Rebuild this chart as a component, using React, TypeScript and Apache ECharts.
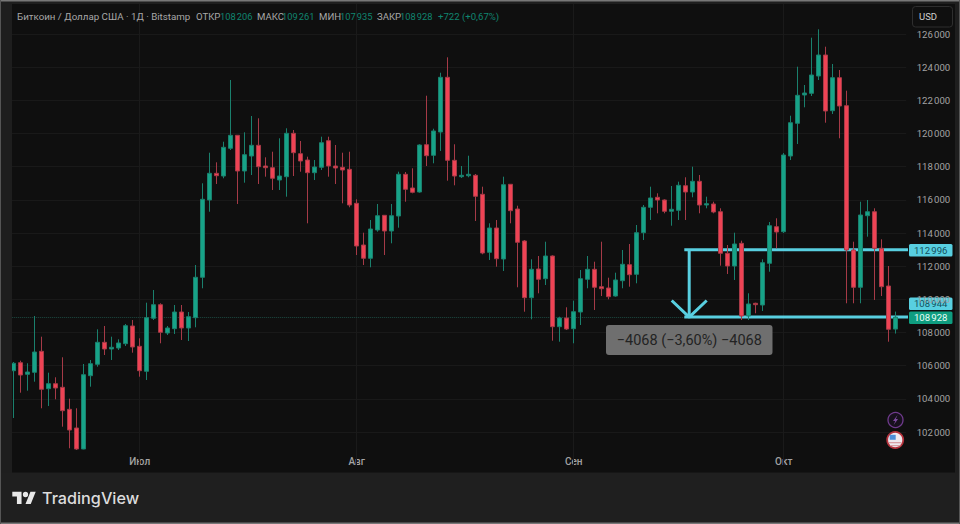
import React, { useEffect, useRef } from "react";
import * as echarts from "echarts";

const opens = [
  105697, 106179, 105480, 105600, 106867, 104611, 104913, 104696, 103369, 102242,
  100975, 105395, 106083, 107409, 107005, 107066, 107325, 108392, 107168, 105661,
  108857, 109677, 107970, 108229, 109236, 108272, 108893, 111329, 115990, 117600,
  117437, 119108, 119891, 117739, 118643, 119288, 118040, 117938, 117196, 117395,
  120012, 118782, 118402, 117636, 117962, 119566, 118040, 117962, 117841, 115791,
  113276, 112475, 114181, 115067, 114121, 115025, 117540, 116714, 116472, 119325,
  118685, 120090, 123389, 118384, 117395, 117455, 117479, 116334, 112836, 114302,
  112432, 116937, 115447, 113518, 110099, 111829, 111244, 112613, 108350, 108875,
  108229, 109236, 111208, 111811, 110762, 110684, 110201, 111124, 112089, 111510,
  114018, 115550, 116153, 115990, 115309, 115369, 116852, 116472, 117118, 115688,
  115749, 115284, 112776, 112010, 113379, 108995, 109761, 109658, 112173, 114380,
  114078, 118643, 120615, 122322, 122424, 123467, 124733, 121375, 123365, 121676,
  112975, 110726, 115043, 115284, 113078, 110804, 108206,
];
const closes = [
  106143, 105437, 105618, 106824, 104575, 104913, 104654, 103285, 102121, 100975,
  105456, 106119, 107409, 107005, 107108, 107367, 108410, 107126, 105697, 108893,
  109677, 108012, 108272, 109236, 108272, 108953, 111329, 116032, 117600, 117455,
  119168, 119891, 117739, 118722, 119288, 117998, 117938, 117299, 117437, 120012,
  118842, 118342, 117636, 117980, 119445, 118040, 117920, 117799, 115688, 113216,
  112475, 114241, 115043, 114121, 115043, 117540, 116635, 116454, 119306, 118661,
  120151, 123389, 118384, 117437, 117479, 117540, 116213, 112794, 114302, 112450,
  116913, 115345, 113439, 110099, 111811, 111208, 112613, 108350, 108875, 108211,
  109254, 111244, 111811, 110726, 110641, 110159, 111166, 112113, 111486, 114018,
  115550, 116111, 115990, 115309, 115429, 116876, 116472, 117118, 115688, 115767,
  115266, 112776, 112010, 113337, 108995, 109719, 109677, 112209, 114440, 114060,
  118703, 120651, 122303, 122442, 123527, 124733, 121357, 123365, 121658, 112975,
  110726, 115085, 115284, 113078, 110762, 108193, 108928,
];
const lows = [
  102845, 104370, 104491, 105033, 103430, 103568, 103972, 102320, 101018, 100915,
  100957, 104732, 105938, 106643, 106342, 106945, 107186, 106782, 105335, 105136,
  108754, 107349, 107850, 107910, 107548, 107488, 108314, 110666, 115284, 116955,
  117299, 119005, 115749, 117033, 117497, 116955, 117395, 116593, 116593, 116189,
  117437, 117696, 114585, 117196, 117799, 117395, 116955, 115791, 115550, 112673,
  112070, 111932, 114078, 112673, 113379, 114320, 115887, 116394, 116430, 118040,
  118203, 118945, 117154, 116876, 117317, 117359, 114724, 112716, 112372, 111968,
  111709, 114585, 110726, 109254, 108796, 110364, 110864, 107506, 107445, 108151,
  107349, 108452, 110666, 109357, 110201, 110002, 110159, 110666, 110762, 110967,
  113578, 114784, 115188, 115188, 114440, 114784, 114784, 116153, 115188, 115490,
  115188, 112028, 111528, 111166, 108754, 108754, 109158, 109297, 111666, 113078,
  114000, 118402, 119367, 121580, 122261, 123226, 120651, 121176, 119711, 109761,
  109761, 109761, 113777, 109960, 110201, 107445, 107935,
];
const highs = [
  106221, 106300, 106143, 108995, 107747, 105576, 105299, 106505, 104008, 103430,
  106101, 106342, 108193, 108392, 107747, 107590, 108513, 108754, 107651, 109797,
  110563, 109761, 108392, 109658, 109658, 109236, 112070, 116997, 118842, 118263,
  119505, 123226, 119910, 120072, 121055, 120917, 118565, 118902, 119711, 120314,
  120211, 119548, 118601, 118402, 119807, 119807, 119306, 118842, 118902, 116032,
  114018, 114784, 115749, 115085, 115749, 117696, 117678, 117902, 119349, 122279,
  120289, 123666, 124595, 119349, 118040, 118661, 117558, 116792, 114585, 114784,
  117395, 116955, 115646, 113578, 112414, 112613, 113475, 112655, 108953, 109520,
  109918, 111769, 112613, 112269, 113475, 111305, 111606, 112975, 113337, 114482,
  115688, 116792, 116394, 116032, 116834, 117094, 117359, 117998, 117497, 116189,
  115887, 115490, 113276, 114018, 113536, 110364, 109797, 112414, 114663, 114887,
  118824, 121073, 124028, 122924, 125777, 126283, 125234, 124191, 123829, 122581,
  113475, 115887, 115990, 115490, 113620, 112010, 109261,
];

const monthLabels = ["Июл", "Авг", "Сен", "Окт"];
const monthBars = [18, 49, 80, 110];
const priceTicks = [
  "102\u202f000", "104\u202f000", "106\u202f000", "108\u202f000", "110\u202f000", "112\u202f000",
  "114\u202f000", "116\u202f000", "118\u202f000", "120\u202f000", "122\u202f000", "124\u202f000", "126\u202f000",
];
const lastClose = 108928;
const measureFrom = 112996;
const measureTo = 108928;
const arrowBar = 96.5;
const arrowStart = 95.8;
const arrowHead = [
  [94, 109930],
  [arrowBar, measureTo],
  [99, 109930],
];

const BAR_STEP = 7;
const PLOT_LEFT = 10.2;
const BAR_SLOTS = opens.length + 1;
const Y_MIN = 100000;
const Y_MAX = 128000;
const PX_PER_UNIT = 398 / 24000;
const gridTop = 34 - (Y_MAX - 126000) * PX_PER_UNIT;
const gridBottom = 34 + (126000 - Y_MIN) * PX_PER_UNIT;

const categories = Array.from({ length: BAR_SLOTS }, (_, i) => String(i));
const candleData = opens.map((o, i) => [o, closes[i], lows[i], highs[i]]);

const FONT = "Roboto, 'Noto Sans', sans-serif";
const GREEN = "#17a388";
const GREEN_DIM = "#1a806d";
const RED = "#ee4354";
const RED_DIM = "#a63a47";
const CYAN = "#58cfe0";
const AXIS_TEXT = "#a3a3a3";
const LEGEND_VALUE = "#0f8570";

echarts.graphic.registerShape(
  "tvmark",
  echarts.graphic.extendPath(
    "M14 22H7V11H0V4h14v18zM28 22h-8l7.5-18h8L28 22zM24 8a4 4 0 1 1-8 0a4 4 0 0 1 8 0z",
    {},
  ),
);

const legendText = (x: number, text: string, fill: string, size = 9.6) => ({
  type: "text",
  z: 60,
  x,
  y: 16,
  style: { text, fill, font: `${size}px ${FONT}`, textVerticalAlign: "middle" },
});

const priceTag = (y: number, text: string, bg: string, fg: string) => ({
  type: "group",
  z: 62,
  children: [
    { type: "rect", shape: { x: 909, y, width: 43.5, height: 12.5, r: 1.5 }, style: { fill: bg } },
    {
      type: "text",
      x: 930.7,
      y: y + 6.4,
      style: { text, fill: fg, font: `9.6px ${FONT}`, textAlign: "center", textVerticalAlign: "middle" },
    },
  ],
});

export default function App() {
  const ref = useRef<HTMLDivElement>(null);

  useEffect(() => {
    document.body.style.margin = "0";
    document.body.style.background = "#0f0f0f";
    const chart = echarts.init(ref.current!, undefined, { renderer: "svg" });
    chart.setOption({
      animation: false,
      backgroundColor: "#0f0f0f",
      textStyle: { fontFamily: FONT },
      grid: {
        left: PLOT_LEFT,
        width: BAR_STEP * BAR_SLOTS,
        top: gridTop,
        height: gridBottom - gridTop,
      },
      xAxis: [
        {
          type: "category",
          data: categories,
          boundaryGap: true,
          axisLine: { show: false },
          axisTick: { show: false },
          splitLine: { show: false },
          axisLabel: {
            color: AXIS_TEXT,
            fontSize: 10,
            fontWeight: 500,
            fontFamily: FONT,
            margin: -9,
            interval: 0,
            hideOverlap: false,
            formatter: (v: string) => {
              const k = monthBars.indexOf(Number(v));
              return k >= 0 ? monthLabels[k] : "";
            },
          },
        },
        { type: "value", show: false, min: -0.5, max: BAR_SLOTS - 0.5, gridIndex: 0 },
      ],
      yAxis: {
        type: "value",
        position: "right",
        min: Y_MIN,
        max: Y_MAX,
        interval: 2000,
        axisLine: { show: false },
        axisTick: { show: false },
        splitLine: { show: true, showMinLine: false, showMaxLine: false, lineStyle: { color: "#191919", width: 1 } },
        axisLabel: {
          color: AXIS_TEXT,
          fontSize: 9.6,
          fontFamily: FONT,
          margin: 10.5,
          align: "left",
          showMinLabel: false,
          showMaxLabel: false,
          formatter: (v: number) => priceTicks[(v - 102000) / 2000] ?? "",
        },
      },
      series: [
        {
          type: "line",
          name: "guides",
          xAxisIndex: 1,
          yAxisIndex: 0,
          z: 1,
          silent: true,
          symbol: "none",
          data: [],
          markLine: {
            z: 1,
            silent: true,
            symbol: "none",
            label: { show: false },
            data: [
              ...monthBars.map((b) => ({ xAxis: b, lineStyle: { color: "#1a1a1a", width: 1, type: "solid" } })),
              { yAxis: lastClose, lineStyle: { color: "#1d4a42", width: 1, type: "dotted" } },
            ],
          },
        },
        {
          type: "line",
          name: "measure-top",
          xAxisIndex: 1,
          z: 2,
          silent: true,
          symbol: "none",
          lineStyle: { color: CYAN, width: 3 },
          data: [
            [arrowStart, measureFrom],
            [BAR_SLOTS, measureFrom],
          ],
        },
        {
          type: "line",
          name: "measure-bottom",
          xAxisIndex: 1,
          z: 2,
          silent: true,
          symbol: "none",
          lineStyle: { color: CYAN, width: 3 },
          data: [
            [arrowStart, measureTo],
            [BAR_SLOTS, measureTo],
          ],
        },
        {
          type: "line",
          name: "measure-arrow",
          xAxisIndex: 1,
          z: 2,
          silent: true,
          symbol: "none",
          lineStyle: { color: CYAN, width: 3 },
          data: [
            [arrowBar, measureFrom],
            [arrowBar, measureTo],
          ],
        },
        {
          type: "line",
          name: "measure-head",
          xAxisIndex: 1,
          z: 2,
          silent: true,
          symbol: "none",
          lineStyle: { color: CYAN, width: 3 },
          data: arrowHead,
        },
        {
          type: "candlestick",
          name: "BTCUSD",
          xAxisIndex: 0,
          z: 3,
          barWidth: 4.6,
          itemStyle: {
            color: GREEN,
            color0: RED,
            borderColor: GREEN_DIM,
            borderColor0: RED_DIM,
            borderWidth: 1,
          },
          data: candleData,
        },
      ],
      graphic: [
        // frame around the plot
        { type: "rect", z: 50, shape: { x: 0, y: 0, width: 12, height: 524 }, style: { fill: "#1e1e1e" } },
        { type: "rect", z: 50, shape: { x: 955, y: 0, width: 5, height: 524 }, style: { fill: "#1e1e1e" } },
        { type: "rect", z: 50, shape: { x: 0, y: 0, width: 960, height: 4 }, style: { fill: "#1e1e1e" } },
        { type: "rect", z: 50, shape: { x: 0, y: 472.5, width: 960, height: 52 }, style: { fill: "#1f1f1f" } },
        { type: "rect", z: 51, shape: { x: 0, y: 0, width: 960, height: 1.5 }, style: { fill: "#777777" } },
        { type: "rect", z: 51, shape: { x: 0, y: 522.5, width: 960, height: 1.5 }, style: { fill: "#777777" } },
        { type: "rect", z: 51, shape: { x: 0, y: 0, width: 1, height: 524 }, style: { fill: "#555555" } },
        { type: "rect", z: 51, shape: { x: 959, y: 0, width: 1, height: 524 }, style: { fill: "#555555" } },

        // header line
        legendText(17, "Биткоин / Доллар США · 1Д · Bitstamp", "#a8a8a8", 9.75),
        legendText(196, "ОТКР", "#a8a8a8"),
        legendText(220, "108\u202f206", LEGEND_VALUE, 9.3),
        legendText(257, "МАКС", "#a8a8a8"),
        legendText(282, "109\u202f261", LEGEND_VALUE, 9.3),
        legendText(319, "МИН", "#a8a8a8"),
        legendText(340, "107\u202f935", LEGEND_VALUE, 9.3),
        legendText(377, "ЗАКР", "#a8a8a8"),
        legendText(400, "108\u202f928", LEGEND_VALUE, 9.3),
        legendText(438, "+722 (+0,67%)", LEGEND_VALUE),

        // currency button
        {
          type: "rect",
          z: 60,
          shape: { x: 912.5, y: 6.5, width: 40, height: 20.5, r: 3 },
          style: { fill: "#0f0f0f", stroke: "#2e2e2e", lineWidth: 1 },
        },
        {
          type: "text",
          z: 61,
          x: 928,
          y: 16.5,
          style: { text: "USD", fill: "#cfcfcf", font: `9.5px ${FONT}`, textAlign: "center", textVerticalAlign: "middle" },
        },

        // price tags
        priceTag(244, "112\u202f996", CYAN, "#14505c"),
        priceTag(297.5, "108\u202f944", CYAN, "#14505c"),
        priceTag(311.5, "108\u202f928", "#0f9d80", "#eafff9"),

        // measurement bubble
        {
          type: "rect",
          z: 60,
          shape: { x: 606, y: 325, width: 166.5, height: 30, r: 3 },
          style: { fill: "#6f6f6f" },
        },
        {
          type: "text",
          z: 61,
          x: 689.3,
          y: 340,
          style: {
            text: "−4068 (−3,60%) −4068",
            fill: "#232323",
            font: `14.5px ${FONT}`,
            textAlign: "center",
            textVerticalAlign: "middle",
          },
        },

        // event badges
        {
          type: "circle",
          z: 60,
          shape: { cx: 895.5, cy: 420, r: 7.5 },
          style: { fill: "#17101d", stroke: "#6f3a8c", lineWidth: 1.3 },
        },
        {
          type: "polygon",
          z: 61,
          shape: { points: [[897.5, 415], [893, 421], [895.3, 421], [893.7, 425], [898, 419], [895.8, 419]] },
          style: { fill: "#7d4a9e" },
        },
        {
          type: "circle",
          z: 60,
          shape: { cx: 895.2, cy: 440, r: 8 },
          style: { fill: "#efe9ee", stroke: "#b5323c", lineWidth: 1.8 },
        },
        { type: "rect", z: 61, shape: { x: 889.7, y: 434.8, width: 6, height: 5 }, style: { fill: "#4d8ed8" } },
        { type: "rect", z: 61, shape: { x: 889, y: 442, width: 12.4, height: 1.3 }, style: { fill: "#d8a0a6" } },
        { type: "rect", z: 61, shape: { x: 890, y: 445, width: 10.4, height: 1.2 }, style: { fill: "#d8a0a6" } },

        // logo
        {
          type: "tvmark",
          z: 60,
          x: 12.3,
          y: 489,
          scaleX: 0.66,
          scaleY: 0.68,
          style: { fill: "#e8e8e8" },
        },
        {
          type: "text",
          z: 60,
          x: 42,
          y: 498,
          style: {
            text: "TradingView",
            fill: "#dcdcdc",
            font: `500 16.2px Inter, ${FONT}`,
            textVerticalAlign: "middle",
          },
        },
      ],
    });
    return () => chart.dispose();
  }, []);

  return <div ref={ref} style={{ width: 960, height: 524 }} />;
}
